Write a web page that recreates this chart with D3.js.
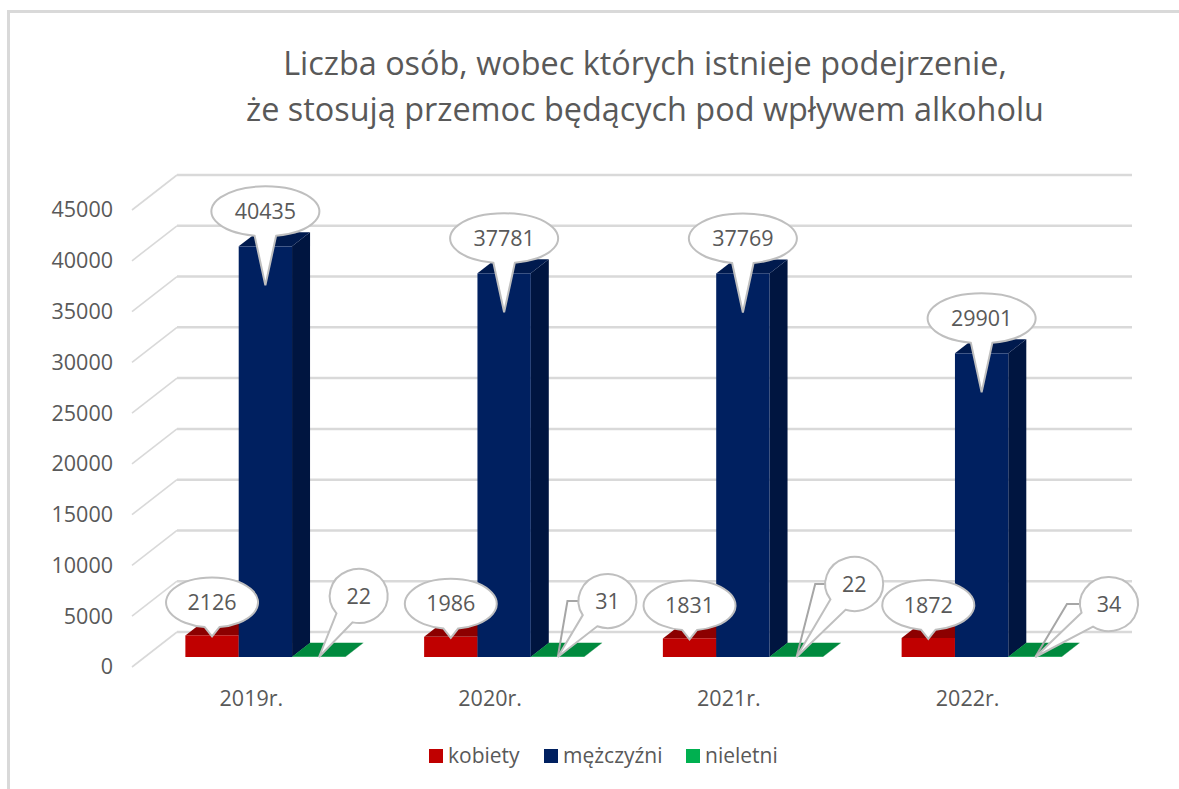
<!DOCTYPE html>
<html lang="pl"><head><meta charset="utf-8">
<script src="https://cdn.jsdelivr.net/npm/d3@7/dist/d3.min.js"></script>
<style>html,body{margin:0;padding:0;background:#fff}svg{display:block}text{font-family:"Open Sans","Noto Sans",sans-serif;fill:#595959}</style>
</head><body><svg id="c" width="1179" height="789"></svg>
<script>
const titleLines=["Liczba osób, wobec których istnieje podejrzenie,","że stosują przemoc będących pod wpływem alkoholu"];
const years=["2019r.","2020r.","2021r.","2022r."];
const seriesNames=["kobiety","mężczyźni","nieletni"];
const kobiety=[2126,1986,1831,1872];
const mezczyzni=[40435,37781,37769,29901];
const nieletni=[22,31,22,34];
const yTicks=[0,5000,10000,15000,20000,25000,30000,35000,40000,45000];
// callout placement for the small series (offset of bubble centre from the bar's front-top-middle)
const greenBubbleDx=[40,50,58,74];
const greenBubbleY=[596,601,584,604];
const greenElbowDx=[0,40,39,42];
const colors={kobiety:["#c00000","#8c0000","#7a0000"],"mężczyźni":["#002060","#001a4e","#001540"],nieletni:["#00b050","#008a3e","#006f32"]};

const svg=d3.select("#c");
const x0=d3.scaleBand().domain(years).range([132,1087]);
const y=d3.scaleLinear().domain([0,45000]).range([657,200]);
const wallDx=45,wallDy=-35,frontDy=10,frontDx=14;
const barDx=18,barDy=-14;
const x1=d3.scaleBand().domain(seriesNames).range([x0.bandwidth()/2+frontDx-80,x0.bandwidth()/2+frontDx+80]);

// frame
svg.append("path").attr("d","M8.5,789V11.5H1179").attr("fill","none").attr("stroke","#d9d9d9").attr("stroke-width",3);

// title
svg.append("g").selectAll("text").data(titleLines).join("text")
 .attr("x",645).attr("y",(d,i)=>[75,121][i]).attr("text-anchor","middle")
 .attr("font-size",32.4).text(d=>d);

// walls
const gy=d3.axisLeft(y).tickValues(yTicks).tickSize(0).tickFormat(d3.format("d"));
const gridBack=svg.append("g");
gridBack.selectAll("line.b").data(yTicks).join("line").attr("class","b")
 .attr("x1",132+wallDx).attr("x2",1087+wallDx)
 .attr("y1",d=>y(d)+frontDy+wallDy).attr("y2",d=>y(d)+frontDy+wallDy)
 .attr("stroke","#d9d9d9").attr("stroke-width",2.5);
gridBack.selectAll("line.s").data(yTicks).join("line").attr("class","s")
 .attr("x1",132).attr("x2",132+wallDx)
 .attr("y1",d=>y(d)+frontDy).attr("y2",d=>y(d)+frontDy+wallDy)
 .attr("stroke","#d9d9d9").attr("stroke-width",1.6);

// y axis labels
const ga=svg.append("g").attr("transform","translate(113,10)").call(gy);
ga.select(".domain").remove();
ga.selectAll("text").attr("x",0).attr("font-size",21.5).style("font-family",'"Open Sans"').style("fill","#595959");

// x axis labels
const gb=svg.append("g").attr("transform","translate(0,699)").call(d3.axisBottom(x0).tickSize(0));
gb.select(".domain").remove();
gb.selectAll("text").attr("y",0).attr("dy","0.32em").attr("font-size",21.5).style("font-family",'"Open Sans"').style("fill","#595959");

// bars
const rows=[];
years.forEach((yr,i)=>{
 [kobiety,mezczyzni,nieletni].forEach((arr,j)=>{
  const name=seriesNames[j];
  rows.push({yr,i,j,name,v:arr[i],xL:x0(yr)+x1(name),w:x1.bandwidth(),t:y(arr[i]),b:y(0)});
 });
});
const bars=svg.append("g").selectAll("g").data(rows).join("g");
bars.append("path").attr("fill",d=>colors[d.name][2])
 .attr("d",d=>`M${d.xL+d.w},${d.t}L${d.xL+d.w+barDx},${d.t+barDy}V${d.b+barDy}L${d.xL+d.w},${d.b}Z`);
bars.append("path").attr("fill",d=>colors[d.name][1])
 .attr("d",d=>`M${d.xL},${d.t}L${d.xL+barDx},${d.t+barDy}H${d.xL+d.w+barDx}L${d.xL+d.w},${d.t}Z`);
bars.append("rect").attr("fill",d=>colors[d.name][0])
 .attr("x",d=>d.xL).attr("y",d=>d.t).attr("width",d=>d.w).attr("height",d=>d.b-d.t);

// callouts
function bubble(cx,cy,rx,ry,tx,ty,halfAng){
 const a=Math.atan2((ty-cy)/ry,(tx-cx)/rx), a1=a-halfAng,a2=a+halfAng;
 const px=t=>cx+rx*Math.cos(t),py=t=>cy+ry*Math.sin(t);
 return `M${px(a2)},${py(a2)}L${tx},${ty}L${px(a1)},${py(a1)}A${rx},${ry} 0 1 0 ${px(a2)},${py(a2)}Z`;
}
const callG=svg.append("g");
function addCallout(cx,cy,rx,ry,tx,ty,ha,label,elbow){
 if(elbow) callG.append("polyline").attr("points",elbow.join(" ")).attr("fill","none").attr("stroke","#a6a6a6").attr("stroke-width",2);
 callG.append("path").attr("d",bubble(cx,cy,rx,ry,tx,ty,ha)).attr("fill","#fff").attr("stroke","#bfbfbf").attr("stroke-width",2);
 callG.append("text").attr("x",cx).attr("y",cy).attr("dy","0.35em").attr("text-anchor","middle").attr("font-size",21.5).text(label);
}
rows.forEach(d=>{
 const m=d.xL+d.w/2;
 if(d.j===1) addCallout(m,d.t-35,54,25,m,d.t+39,0.2,d.v);
 if(d.j===0) addCallout(m,d.t-33,46,25,m,d.t+1,0.16,d.v);
 if(d.j===2){
  const cx=m+greenBubbleDx[d.i],cy=greenBubbleY[d.i],tx=d.xL+27;
  const elbow=d.i===0?null:[[tx,657],[cx-greenElbowDx[d.i],cy],[cx-27,cy]];
  addCallout(cx,cy,29,27,tx,657,0.33,d.v,elbow);
 }
});

// legend
const lg=svg.append("g").selectAll("g").data(seriesNames).join("g")
 .attr("transform",(d,i)=>`translate(${[429,544,686][i]},749)`);
lg.append("rect").attr("width",14).attr("height",14).attr("fill",(d,i)=>["#c00000","#002060","#00b050"][i]);
lg.append("text").attr("x",19).attr("y",7).attr("dy","0.35em").attr("font-size",21).text(d=>d);
</script></body></html>
